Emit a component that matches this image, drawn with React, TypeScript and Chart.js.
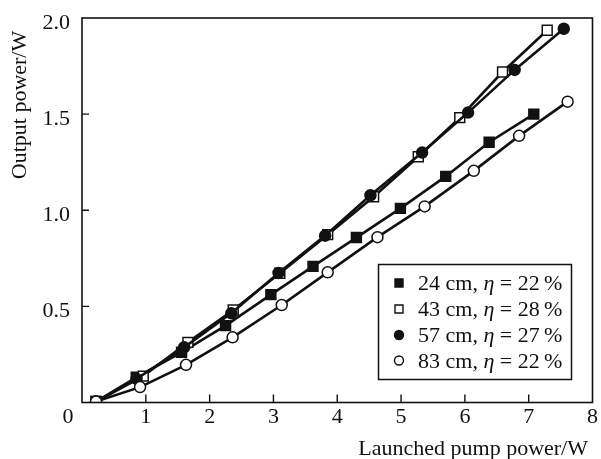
import React, { useEffect, useRef } from "react";
import { Chart, registerables } from "chart.js";

Chart.register(...registerables);

// Data
const x24 = [0.22, 0.85, 1.56, 2.25, 2.96, 3.62, 4.3, 4.99, 5.7, 6.38, 7.08];
const y24 = [0.005, 0.131, 0.261, 0.4, 0.561, 0.708, 0.858, 1.01, 1.176, 1.354, 1.5];
const x43 = [0.22, 0.96, 1.66, 2.37, 3.1, 3.85, 4.57, 5.27, 5.92, 6.59, 7.29];
const y43 = [0.005, 0.137, 0.313, 0.481, 0.672, 0.873, 1.07, 1.278, 1.482, 1.719, 1.936];
const x57 = [0.22, 0.855, 1.6, 2.34, 3.08, 3.81, 4.52, 5.33, 6.05, 6.78, 7.55];
const y57 = [0.005, 0.123, 0.287, 0.464, 0.674, 0.868, 1.078, 1.3, 1.508, 1.73, 1.944];
const x83 = [0.22, 0.91, 1.63, 2.36, 3.13, 3.85, 4.63, 5.37, 6.14, 6.85, 7.61];
const y83 = [0.005, 0.08, 0.196, 0.339, 0.507, 0.677, 0.86, 1.02, 1.205, 1.387, 1.565];

const lengths = ["24 cm, ", "43 cm, ", "57 cm, ", "83 cm, "];
const etas = ["22", "28", "27", "22"];
const markerStyles = ["rect", "rect", "circle", "circle"];
const markerFilled = [true, false, true, false];

const xTicks = [1, 2, 3, 4, 5, 6, 7, 8];
const yTicks = [0.5, 1.0, 1.5, 2.0];
const xTitle = "Launched pump power/W";
const yTitle = "Output power/W";

const FONT = '"Liberation Serif", "Times New Roman", serif';

const toPts = (xs: number[], ys: number[]) => xs.map((x, i) => ({ x, y: ys[i] }));

function drawMarker(ctx: CanvasRenderingContext2D, style: string, filled: boolean, x: number, y: number, size: number) {
  ctx.save();
  ctx.lineWidth = 1.4;
  ctx.strokeStyle = "#111";
  ctx.fillStyle = filled ? "#111" : "#fff";
  ctx.beginPath();
  if (style === "rect") {
    ctx.rect(x - size / 2, y - size / 2, size, size);
  } else {
    ctx.arc(x, y, size / 2, 0, Math.PI * 2);
  }
  ctx.fill();
  ctx.stroke();
  ctx.restore();
}

const decorPlugin = {
  id: "decor",
  afterDraw(chart: any) {
    const ctx: CanvasRenderingContext2D = chart.ctx;
    const { left, right, top, bottom } = chart.chartArea;
    const xs = chart.scales.x;
    const ys = chart.scales.y;
    ctx.save();
    ctx.strokeStyle = "#111";
    ctx.lineWidth = 1.6;
    ctx.strokeRect(left, top, right - left, bottom - top);
    // inward ticks
    ctx.lineWidth = 1.4;
    ctx.beginPath();
    for (const t of xTicks) {
      if (t >= 8) continue;
      const px = xs.getPixelForValue(t);
      ctx.moveTo(px, bottom);
      ctx.lineTo(px, bottom - 8);
    }
    for (const t of yTicks) {
      if (t >= 2) continue;
      const py = ys.getPixelForValue(t);
      ctx.moveTo(left, py);
      ctx.lineTo(left + 7, py);
    }
    ctx.stroke();

    ctx.fillStyle = "#111";
    ctx.font = `22px ${FONT}`;
    ctx.textBaseline = "alphabetic";
    ctx.textAlign = "center";
    for (const t of xTicks) {
      ctx.fillText(String(t), xs.getPixelForValue(t), 423);
    }
    ctx.fillText("0", 68, 423);
    ctx.textAlign = "right";
    for (const t of yTicks) {
      ctx.fillText(t.toFixed(1), 70, ys.getPixelForValue(t) + 11);
    }
    // axis titles
    ctx.textAlign = "right";
    ctx.fillText(xTitle, 588, 455);
    ctx.save();
    ctx.translate(26, 105);
    ctx.rotate(-Math.PI / 2);
    ctx.textAlign = "center";
    ctx.fillText(yTitle, 0, 0);
    ctx.restore();

    // legend
    ctx.lineWidth = 1.5;
    ctx.strokeRect(378.5, 264.5, 193, 115);
    const rowY = [283, 309, 335, 360.5];
    for (let i = 0; i < lengths.length; i++) {
      const y = rowY[i];
      drawMarker(ctx, markerStyles[i], markerFilled[i], 399, y, markerStyles[i] === "rect" ? 8 : 9);
      let x = 418;
      ctx.textAlign = "left";
      ctx.font = `22px ${FONT}`;
      ctx.fillText(lengths[i], x, y + 7);
      x += ctx.measureText(lengths[i]).width;
      ctx.font = `italic 22px ${FONT}`;
      ctx.fillText("\u03B7", x, y + 7);
      x += ctx.measureText("\u03B7").width;
      ctx.font = `22px ${FONT}`;
      const rest = " = " + etas[i] + "\u2009%";
      ctx.fillText(rest, x, y + 7);
    }
    ctx.restore();
  },
};

export default function App() {
  const ref = useRef<HTMLCanvasElement | null>(null);
  useEffect(() => {
    if (!ref.current) return;
    const common = {
      borderColor: "#111",
      borderWidth: 2.6,
      pointBorderColor: "#111",
      pointBorderWidth: 1.5,
      showLine: true,
      tension: 0,
    };
    const chart = new Chart(ref.current, {
      type: "scatter",
      data: {
        datasets: [
          { ...common, label: "24 cm", data: toPts(x24, y24), pointStyle: "rect", pointRadius: 7, pointBackgroundColor: "#111", order: 3 },
          { ...common, label: "43 cm", data: toPts(x43, y43), pointStyle: "rect", pointRadius: 7, pointBackgroundColor: "#fff", order: 2 },
          { ...common, label: "57 cm", data: toPts(x57, y57), pointStyle: "circle", pointRadius: 5.5, pointBackgroundColor: "#111", order: 1 },
          { ...common, label: "83 cm", data: toPts(x83, y83), pointStyle: "circle", pointRadius: 5.5, pointBackgroundColor: "#fff", order: 0 },
        ],
      },
      options: {
        animation: false,
        responsive: false,
        layout: { padding: { left: 82, right: 4, top: 18, bottom: 56.5 } },
        plugins: { legend: { display: false }, tooltip: { enabled: false } },
        scales: {
          x: { type: "linear", min: 0, max: 8, display: false },
          y: { type: "linear", min: 0, max: 2, display: false },
        },
      },
      plugins: [decorPlugin],
    } as any);
    return () => chart.destroy();
  }, []);
  return (
    <div style={{ position: "fixed", left: 0, top: 0, width: 601, height: 459, background: "#fff" }}>
      <canvas ref={ref} width={601} height={459} />
    </div>
  );
}
